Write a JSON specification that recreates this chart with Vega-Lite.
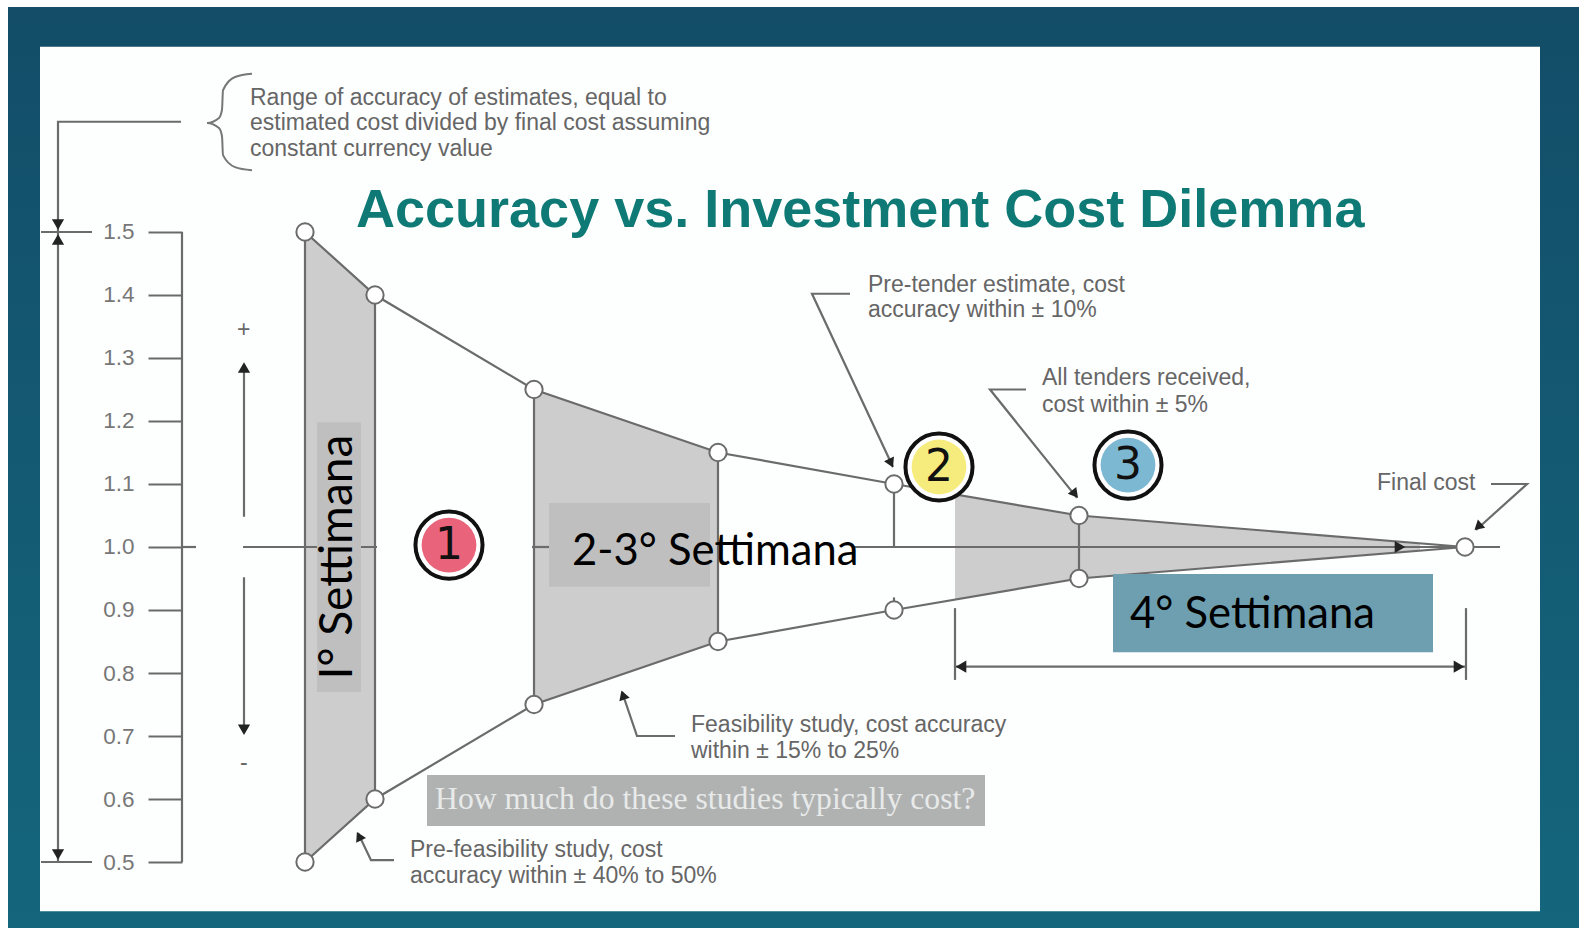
{
"$schema":"https://vega.github.io/schema/vega-lite/v6.json",
"width":1579,"height":928,"autosize":"none","padding":0,"background":"#ffffff",
"config":{"view":{"stroke":null}},
"datasets":{
"boxes":[
{"id":"frame","x":8,"x2":1579,"y":1.857,"y2":0.39524},
{"id":"panel","x":40,"x2":1540,"y":1.794,"y2":0.422},
{"id":"b1","x":317,"x2":361,"y":1.198,"y2":0.770},
{"id":"b2","x":549,"x2":710,"y":1.070,"y2":0.937},
{"id":"b4","x":1113,"x2":1433,"y":0.957,"y2":0.833},
{"id":"q","x":427,"x2":985,"y":0.638,"y2":0.557}
],
"shade":[
{"s":"a","x":305,"hi":1.5,"lo":0.5},{"s":"a","x":375,"hi":1.4,"lo":0.6},
{"s":"b","x":534,"hi":1.25,"lo":0.75},{"s":"b","x":718,"hi":1.15,"lo":0.85},
{"s":"c","x":955,"hi":1.083,"lo":0.917},{"s":"c","x":1079,"hi":1.05,"lo":0.95},{"s":"c","x":1420,"hi":1.006,"lo":0.994}
],
"lines":[
{"s":"up","o":1,"x":305,"y":1.5},{"s":"up","o":2,"x":375,"y":1.4},{"s":"up","o":3,"x":534,"y":1.25},{"s":"up","o":4,"x":718,"y":1.15},{"s":"up","o":5,"x":894,"y":1.1},{"s":"up","o":6,"x":1079,"y":1.05},{"s":"up","o":7,"x":1465,"y":1.0},
{"s":"lo","o":1,"x":305,"y":0.5},{"s":"lo","o":2,"x":375,"y":0.6},{"s":"lo","o":3,"x":534,"y":0.75},{"s":"lo","o":4,"x":718,"y":0.85},{"s":"lo","o":5,"x":894,"y":0.9},{"s":"lo","o":6,"x":1079,"y":0.95},{"s":"lo","o":7,"x":1465,"y":1.0},
{"s":"va","o":1,"x":305,"y":1.5},{"s":"va","o":2,"x":305,"y":0.5},
{"s":"vb","o":1,"x":375,"y":1.4},{"s":"vb","o":2,"x":375,"y":0.6},
{"s":"vc","o":1,"x":534,"y":1.25},{"s":"vc","o":2,"x":534,"y":0.75},
{"s":"vd","o":1,"x":718,"y":1.15},{"s":"vd","o":2,"x":718,"y":0.85},
{"s":"ve","o":1,"x":894,"y":1.1},{"s":"ve","o":2,"x":894,"y":1.0},
{"s":"vf","o":1,"x":894,"y":0.92},{"s":"vf","o":2,"x":894,"y":0.9},
{"s":"vg","o":1,"x":1079,"y":1.05},{"s":"vg","o":2,"x":1079,"y":0.95},
{"s":"c1","o":1,"x":182,"y":1.0},{"s":"c1","o":2,"x":196,"y":1.0},
{"s":"c2","o":1,"x":243,"y":1.0},{"s":"c2","o":2,"x":377,"y":1.0},
{"s":"c3","o":1,"x":532,"y":1.0},{"s":"c3","o":2,"x":549,"y":1.0},
{"s":"c4","o":1,"x":852,"y":1.0},{"s":"c4","o":2,"x":1500,"y":1.0},
{"s":"bracket","o":1,"x":182,"y":1.5},{"s":"bracket","o":2,"x":182,"y":0.5},
{"s":"t15","o":1,"x":41,"y":1.5},{"s":"t15","o":2,"x":92,"y":1.5},
{"s":"t05","o":1,"x":41,"y":0.5},{"s":"t05","o":2,"x":92,"y":0.5},
{"s":"lead","o":1,"x":181,"y":1.675},{"s":"lead","o":2,"x":58,"y":1.675},{"s":"lead","o":3,"x":58,"y":0.5},
{"s":"upar","o":1,"x":244,"y":1.048},{"s":"upar","o":2,"x":244,"y":1.285},
{"s":"dnar","o":1,"x":244,"y":0.952},{"s":"dnar","o":2,"x":244,"y":0.71},
{"s":"dim","o":1,"x":955,"y":0.81},{"s":"dim","o":2,"x":1465,"y":0.81},
{"s":"dl","o":1,"x":955,"y":0.903},{"s":"dl","o":2,"x":955,"y":0.789},
{"s":"dr","o":1,"x":1466,"y":0.903},{"s":"dr","o":2,"x":1466,"y":0.789},
{"s":"pt","o":1,"x":850,"y":1.402},{"s":"pt","o":2,"x":812,"y":1.402},{"s":"pt","o":3,"x":893,"y":1.127},
{"s":"at","o":1,"x":1026,"y":1.250},{"s":"at","o":2,"x":990,"y":1.250},{"s":"at","o":3,"x":1077,"y":1.078},
{"s":"fc","o":1,"x":1491,"y":1.100},{"s":"fc","o":2,"x":1527,"y":1.100},{"s":"fc","o":3,"x":1476,"y":1.027},
{"s":"fe","o":1,"x":675,"y":0.700},{"s":"fe","o":2,"x":637,"y":0.700},{"s":"fe","o":3,"x":622,"y":0.770},
{"s":"pf","o":1,"x":394,"y":0.503},{"s":"pf","o":2,"x":371,"y":0.503},{"s":"pf","o":3,"x":358,"y":0.546}
],
"brace":[
{"o":1,"x":252,"y":1.751},{"o":2,"x":235,"y":1.746},{"o":3,"x":223,"y":1.725},{"o":4,"x":222,"y":1.694},{"o":5,"x":219,"y":1.681},{"o":6,"x":207,"y":1.673},{"o":7,"x":219,"y":1.665},{"o":8,"x":222,"y":1.652},{"o":9,"x":223,"y":1.622},{"o":10,"x":235,"y":1.603},{"o":11,"x":252,"y":1.598}
],
"nodes":[
{"x":305,"y":1.5},{"x":305,"y":0.5},{"x":375,"y":1.4},{"x":375,"y":0.6},{"x":534,"y":1.25},{"x":534,"y":0.75},{"x":718,"y":1.15},{"x":718,"y":0.85},{"x":894,"y":1.1},{"x":894,"y":0.9},{"x":1079,"y":1.05},{"x":1079,"y":0.95},{"x":1465,"y":1.0}
],
"heads":[
{"x":58,"y":1.512,"shape":"triangle-down"},{"x":58,"y":1.488,"shape":"triangle-up"},{"x":58,"y":0.512,"shape":"triangle-down"},
{"x":244,"y":1.285,"shape":"triangle-up"},{"x":244,"y":0.71,"shape":"triangle-down"},
{"x":961,"y":0.81,"shape":"triangle-left"},{"x":1459,"y":0.81,"shape":"triangle-right"},
{"x":1400,"y":1.0,"shape":"triangle-right"}
],
"slanted":[
{"id":"pt","x":891,"y":1.133},{"id":"at","x":1075,"y":1.084},{"id":"fc","x":1478,"y":1.032},{"id":"fe","x":623,"y":0.765},{"id":"pf","x":359,"y":0.541}
],
"notes":[
{"text":"Range of accuracy of estimates, equal to","x":250,"y":1.713},
{"text":"estimated cost divided by final cost assuming","x":250,"y":1.673},
{"text":"constant currency value","x":250,"y":1.632},
{"text":"Pre-tender estimate, cost","x":868,"y":1.416},
{"text":"accuracy within  ± 10%","x":868,"y":1.376},
{"text":"All tenders received,","x":1042,"y":1.268},
{"text":"cost within  ± 5%","x":1042,"y":1.225},
{"text":"Final cost","x":1377,"y":1.102},
{"text":"Feasibility study, cost accuracy","x":691,"y":0.717},
{"text":"within  ± 15% to 25%","x":691,"y":0.676},
{"text":"Pre-feasibility study, cost","x":410,"y":0.519},
{"text":"accuracy within  ± 40% to 50%","x":410,"y":0.478},
{"text":"+","x":237,"y":1.345},
{"text":"-","x":240,"y":0.657}
],
"badges":[
{"n":"1","x":449,"y":1.003,"c":"red"},
{"n":"2","x":939,"y":1.127,"c":"yellow"},
{"n":"3","x":1128,"y":1.130,"c":"blue"}
]
},
"encoding":{
"x":{"field":"x","type":"quantitative","scale":{"domain":[0,1579],"range":[0,1579],"nice":false,"zero":false},"axis":null},
"y":{"field":"y","type":"quantitative","scale":{"domain":[0.39524,1.86825],"nice":false,"zero":false},
"axis":{"orient":"left","offset":-182,"values":[0.5,0.6,0.7,0.8,0.9,1.0,1.1,1.2,1.3,1.4,1.5],"format":".1f","title":null,"domain":false,"grid":false,"tickSize":34,"tickWidth":2,"tickColor":"#6a6a6a","labelPadding":14,"labelFontSize":22.5,"labelColor":"#777777","labelFont":"Liberation Sans","zindex":1}}
},
"layer":[
{"data":{"name":"boxes"},"transform":[{"filter":"datum.id==='frame'"}],
 "mark":{"type":"rect","fill":{"gradient":"linear","x1":0,"y1":0,"x2":0,"y2":1,"stops":[{"offset":0,"color":"#134d68"},{"offset":1,"color":"#14667d"}]}},
 "encoding":{"x2":{"field":"x2"},"y2":{"field":"y2"}}},
{"data":{"name":"boxes"},"transform":[{"filter":"datum.id==='panel'"}],
 "mark":{"type":"rect","fill":"#fdfefe"},
 "encoding":{"x2":{"field":"x2"},"y2":{"field":"y2"}}},
{"data":{"name":"shade"},
 "mark":{"type":"area","fill":"#cdcdcd","opacity":1},
 "encoding":{"y":{"field":"hi","type":"quantitative"},"y2":{"field":"lo"},"detail":{"field":"s"}}},
{"data":{"name":"lines"},
 "mark":{"type":"line","stroke":"#6b6b6b","strokeWidth":2.2},
 "encoding":{"detail":{"field":"s"},"order":{"field":"o","type":"ordinal"}}},
{"data":{"name":"brace"},
 "mark":{"type":"line","stroke":"#777777","strokeWidth":2,"interpolate":"monotone"},
 "encoding":{"order":{"field":"o","type":"ordinal"}}},
{"data":{"name":"boxes"},"transform":[{"filter":"datum.id==='b1'||datum.id==='b2'"}],
 "mark":{"type":"rect","fill":"#bfbfbf"},
 "encoding":{"x2":{"field":"x2"},"y2":{"field":"y2"}}},
{"data":{"name":"boxes"},"transform":[{"filter":"datum.id==='b4'"}],
 "mark":{"type":"rect","fill":"#6e9fb0"},
 "encoding":{"x2":{"field":"x2"},"y2":{"field":"y2"}}},
{"data":{"name":"boxes"},"transform":[{"filter":"datum.id==='q'"}],
 "mark":{"type":"rect","fill":"#b0b2b2"},
 "encoding":{"x2":{"field":"x2"},"y2":{"field":"y2"}}},
{"data":{"name":"nodes"},
 "mark":{"type":"point","shape":"circle","size":300,"filled":true,"fill":"#ffffff","stroke":"#6b6b6b","strokeWidth":2,"opacity":1}},
{"data":{"name":"heads"},
 "mark":{"type":"point","filled":true,"size":150,"fill":"#222222","stroke":null,"opacity":1},
 "encoding":{"shape":{"field":"shape","type":"nominal","scale":null}}},
{"data":{"name":"slanted"},"transform":[{"filter":"datum.id==='pt'"}],"mark":{"type":"point","shape":"triangle-up","filled":true,"size":120,"fill":"#222222","opacity":1,"angle":155}},
{"data":{"name":"slanted"},"transform":[{"filter":"datum.id==='at'"}],"mark":{"type":"point","shape":"triangle-up","filled":true,"size":120,"fill":"#222222","opacity":1,"angle":141}},
{"data":{"name":"slanted"},"transform":[{"filter":"datum.id==='fc'"}],"mark":{"type":"point","shape":"triangle-up","filled":true,"size":120,"fill":"#222222","opacity":1,"angle":228}},
{"data":{"name":"slanted"},"transform":[{"filter":"datum.id==='fe'"}],"mark":{"type":"point","shape":"triangle-up","filled":true,"size":120,"fill":"#222222","opacity":1,"angle":341}},
{"data":{"name":"slanted"},"transform":[{"filter":"datum.id==='pf'"}],"mark":{"type":"point","shape":"triangle-up","filled":true,"size":120,"fill":"#222222","opacity":1,"angle":334}},
{"data":{"name":"badges"},
 "mark":{"type":"point","shape":"circle","size":4500,"filled":true,"fill":"#ffffff","stroke":"#111111","strokeWidth":4,"opacity":1}},
{"data":{"name":"badges"},
 "mark":{"type":"point","shape":"circle","size":3000,"filled":true,"opacity":1,"stroke":null},
 "encoding":{"fill":{"field":"c","type":"nominal","legend":null,"scale":{"domain":["red","yellow","blue"],"range":["#e9637a","#f6ec7e","#7db8d2"]}}}},
{"data":{"name":"badges"},
 "mark":{"type":"text","font":"DejaVu Sans","fontSize":44,"fontWeight":"normal","fill":"#111111","align":"center","baseline":"middle","dy":1},
 "encoding":{"text":{"field":"n"}}},
{"data":{"name":"notes"},
 "mark":{"type":"text","font":"Liberation Sans","fontSize":23,"fill":"#666666","align":"left","baseline":"middle"},
 "encoding":{"text":{"field":"text"}}},
{"data":{"values":[{"t":"Accuracy vs. Investment Cost Dilemma","x":356,"y":1.533}]},
 "mark":{"type":"text","font":"Liberation Sans","fontWeight":"bold","fontSize":54,"fill":"#0f7a75","align":"left","baseline":"middle"},
 "encoding":{"text":{"field":"t"}}},
{"data":{"values":[{"t":"How much do these studies typically cost?","x":435,"y":0.6}]},
 "mark":{"type":"text","font":"Liberation Serif","fontSize":31.7,"fill":"#e8eaea","align":"left","baseline":"middle"},
 "encoding":{"text":{"field":"t"}}},
{"data":{"values":[{"t":"I° Settimana","x":338,"y":0.984}]},
 "mark":{"type":"text","font":"Lato","fontSize":46,"fill":"#000000","align":"center","baseline":"middle","angle":270},
 "encoding":{"text":{"field":"t"}}},
{"data":{"values":[{"t":"2-3° Settimana","x":572,"y":0.992},{"t":"4° Settimana","x":1130,"y":0.892}]},
 "mark":{"type":"text","font":"Lato","fontSize":43.6,"fill":"#000000","align":"left","baseline":"middle"},
 "encoding":{"text":{"field":"t"}}}
]
}
